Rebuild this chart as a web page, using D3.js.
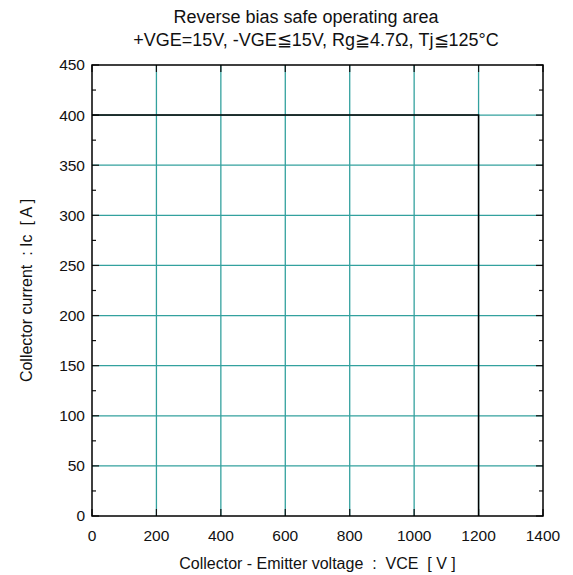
<!DOCTYPE html>
<html>
<head>
<meta charset="utf-8">
<script src="https://cdn.jsdelivr.net/npm/d3@7"></script>
<style>
  body { margin: 0; background: #fff; }
  text { font-family: "Liberation Sans", Arial, sans-serif; fill: #111; }
</style>
</head>
<body>
<svg id="chart"></svg>
<script>
const width = 573, height = 575;
const margin = {top: 65, right: 30, bottom: 59, left: 92};

// RBSOA boundary (VCE [V], Ic [A])
const vce = [0, 1200, 1200];
const ic = [400, 400, 0];

const xTicks = [0, 200, 400, 600, 800, 1000, 1200, 1400];
const yTicks = [0, 50, 100, 150, 200, 250, 300, 350, 400, 450];
const yMinor = [25, 75, 125, 175, 225, 275, 325, 375, 425];

const titleLines = ["Reverse bias safe operating area",
  "+VGE=15V, -VGE\u226615V, Rg\u22674.7\u03a9, Tj\u2266125\u00b0C"];
const xLabel = "Collector - Emitter voltage  :  VCE  [ V ]";
const yLabel = "Collector current  : Ic  [ A ]";

const gridColor = "#33a19e";

const svg = d3.select("#chart")
  .attr("width", width)
  .attr("height", height);

const iw = width - margin.left - margin.right;
const ih = height - margin.top - margin.bottom;

const x = d3.scaleLinear().domain([0, 1400]).range([0, iw]);
const y = d3.scaleLinear().domain([0, 450]).range([ih, 0]);

const g = svg.append("g")
  .attr("transform", `translate(${margin.left},${margin.top})`);

// grid
g.append("g")
  .selectAll("line")
  .data(xTicks.slice(1, -1))
  .enter().append("line")
    .attr("x1", d => x(d)).attr("x2", d => x(d))
    .attr("y1", 0).attr("y2", ih)
    .attr("stroke", gridColor)
    .attr("stroke-width", 1.3);

g.append("g")
  .selectAll("line")
  .data(yTicks.slice(1, -1))
  .enter().append("line")
    .attr("x1", 0).attr("x2", iw)
    .attr("y1", d => y(d)).attr("y2", d => y(d))
    .attr("stroke", gridColor)
    .attr("stroke-width", 1.3);

// ticks, all pointing inward
const tickG = g.append("g").attr("stroke", "#111").attr("stroke-width", 1.2);
const tickLen = 7, minorLen = 4;

xTicks.forEach(t => {
  tickG.append("line").attr("x1", x(t)).attr("x2", x(t)).attr("y1", ih).attr("y2", ih - tickLen);
  tickG.append("line").attr("x1", x(t)).attr("x2", x(t)).attr("y1", 0).attr("y2", tickLen);
});
yTicks.forEach(t => {
  tickG.append("line").attr("x1", 0).attr("x2", tickLen).attr("y1", y(t)).attr("y2", y(t));
  tickG.append("line").attr("x1", iw).attr("x2", iw - tickLen).attr("y1", y(t)).attr("y2", y(t));
});
yMinor.forEach(t => {
  tickG.append("line").attr("x1", 0).attr("x2", minorLen).attr("y1", y(t)).attr("y2", y(t));
  tickG.append("line").attr("x1", iw).attr("x2", iw - minorLen).attr("y1", y(t)).attr("y2", y(t));
});

// boundary line
const line = d3.line()
  .x((d, i) => x(vce[i]))
  .y(d => y(d));

g.append("path")
  .datum(ic)
  .attr("fill", "none")
  .attr("stroke", "#000")
  .attr("stroke-width", 1.5)
  .attr("d", line);

// frame
g.append("rect")
  .attr("width", iw).attr("height", ih)
  .attr("fill", "none")
  .attr("stroke", "#000")
  .attr("stroke-width", 1.5);

// tick labels
g.append("g")
  .selectAll("text")
  .data(xTicks)
  .enter().append("text")
    .attr("x", d => x(d))
    .attr("y", ih + 25)
    .attr("text-anchor", "middle")
    .attr("font-size", 15.5)
    .text(d => d);

g.append("g")
  .selectAll("text")
  .data(yTicks)
  .enter().append("text")
    .attr("x", -7)
    .attr("y", d => y(d))
    .attr("dy", "0.35em")
    .attr("text-anchor", "end")
    .attr("font-size", 15.5)
    .text(d => d);

// axis labels
svg.append("text")
  .attr("x", margin.left + iw / 2)
  .attr("y", 569)
  .attr("text-anchor", "middle")
  .attr("font-size", 16)
  .style("white-space", "pre")
  .text(xLabel);

svg.append("text")
  .attr("transform", `translate(32,${margin.top + ih / 2}) rotate(-90)`)
  .attr("text-anchor", "middle")
  .attr("font-size", 16)
  .style("white-space", "pre")
  .text(yLabel);

// title
svg.append("text")
  .attr("x", 306).attr("y", 23)
  .attr("text-anchor", "middle")
  .attr("font-size", 18)
  .text(titleLines[0]);
svg.append("text")
  .attr("x", 316).attr("y", 46)
  .attr("text-anchor", "middle")
  .attr("font-size", 18)
  .text(titleLines[1]);
</script>
</body>
</html>
